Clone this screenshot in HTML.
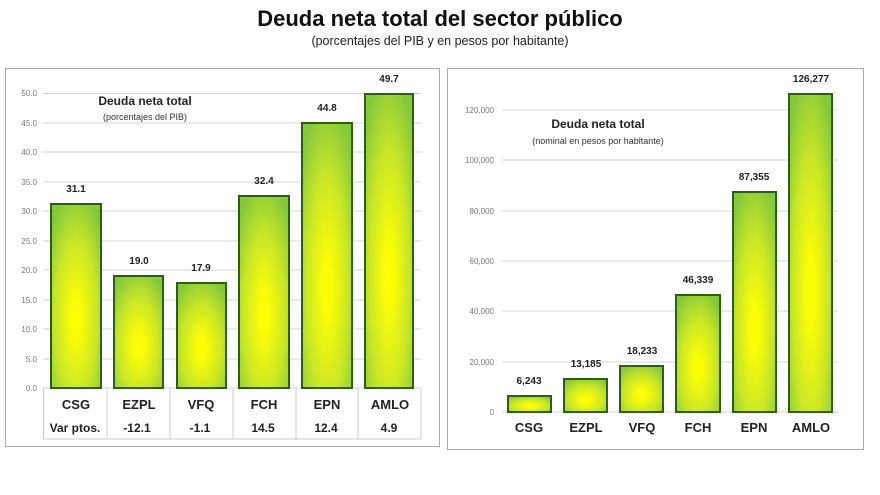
<!DOCTYPE html>
<html><head><meta charset="utf-8"><style>
body{margin:0;background:#fff;width:880px;height:490px;overflow:hidden;font-family:"Liberation Sans",sans-serif}
</style></head><body>
<svg width="880" height="490" xmlns="http://www.w3.org/2000/svg" font-family="Liberation Sans, sans-serif">
<defs>
<radialGradient id="g" cx="0.5" cy="0.62" r="0.7">
<stop offset="0" stop-color="#ffff00"/><stop offset="0.15" stop-color="#fbfc08"/><stop offset="0.6" stop-color="#c8e628"/><stop offset="1" stop-color="#84c83c"/>
</radialGradient>
</defs>
<text x="440" y="26" text-anchor="middle" font-size="22" font-weight="bold" fill="#111">Deuda neta total del sector público</text>
<text x="440" y="45" text-anchor="middle" font-size="12.5" fill="#222">(porcentajes del PIB y en pesos por habitante)</text>
<!-- left panel -->
<rect x="5.5" y="68.5" width="434" height="378" fill="#fff" stroke="#aaa"/>
<g stroke="#d4d4d4" stroke-width="1">
<line x1="43" x2="421" y1="93.5" y2="93.5"/><line x1="43" x2="421" y1="123" y2="123"/><line x1="43" x2="421" y1="152" y2="152"/><line x1="43" x2="421" y1="182" y2="182"/><line x1="43" x2="421" y1="211" y2="211"/><line x1="43" x2="421" y1="241" y2="241"/><line x1="43" x2="421" y1="270" y2="270"/><line x1="43" x2="421" y1="300" y2="300"/><line x1="43" x2="421" y1="329" y2="329"/><line x1="43" x2="421" y1="359" y2="359"/><line x1="43" x2="421" y1="388" y2="388"/>
</g>
<g font-size="8" fill="#777" text-anchor="end">
<text x="37" y="96">50.0</text><text x="37" y="126">45.0</text><text x="37" y="155">40.0</text><text x="37" y="185">35.0</text><text x="37" y="214">30.0</text><text x="37" y="244">25.0</text><text x="37" y="273">20.0</text><text x="37" y="303">15.0</text><text x="37" y="332">10.0</text><text x="37" y="362">5.0</text><text x="37" y="391">0.0</text>
</g>
<g fill="url(#g)" stroke="#2e5e12" stroke-width="2">
<rect x="51" y="204" width="50" height="184"/><rect x="114" y="276" width="49" height="112"/><rect x="177" y="283" width="49" height="105"/><rect x="239" y="196" width="50" height="192"/><rect x="302" y="123" width="50" height="265"/><rect x="365" y="94" width="48" height="294"/>
</g>
<g font-size="10" font-weight="bold" fill="#222" text-anchor="middle">
<text x="76" y="192">31.1</text><text x="139" y="264">19.0</text><text x="201" y="271">17.9</text><text x="264" y="184">32.4</text><text x="327" y="111">44.8</text><text x="389" y="82">49.7</text>
</g>
<text x="145" y="105" text-anchor="middle" font-size="12" font-weight="bold" fill="#222">Deuda neta total</text>
<text x="145" y="120" text-anchor="middle" font-size="9" fill="#333">(porcentajes del PIB)</text>
<g stroke="#ccc"><line x1="43" x2="421" y1="439" y2="439"/>
<line x1="43.5" x2="43.5" y1="388" y2="439"/><line x1="107" x2="107" y1="388" y2="439"/><line x1="170" x2="170" y1="388" y2="439"/><line x1="233" x2="233" y1="388" y2="439"/><line x1="296" x2="296" y1="388" y2="439"/><line x1="358" x2="358" y1="388" y2="439"/><line x1="421" x2="421" y1="388" y2="439"/></g>
<g font-size="13" font-weight="bold" fill="#222" text-anchor="middle">
<text x="76" y="409">CSG</text><text x="139" y="409">EZPL</text><text x="201" y="409">VFQ</text><text x="264" y="409">FCH</text><text x="327" y="409">EPN</text><text x="390" y="409">AMLO</text>
<text x="75" y="432" font-size="12">Var ptos.</text><text x="137" y="432" font-size="12">-12.1</text><text x="200" y="432" font-size="12">-1.1</text><text x="263" y="432" font-size="12">14.5</text><text x="326" y="432" font-size="12">12.4</text><text x="389" y="432" font-size="12">4.9</text>
</g>
<!-- right panel -->
<rect x="447.5" y="68.5" width="416" height="381" fill="#fff" stroke="#aaa"/>
<g stroke="#d4d4d4">
<line x1="502" x2="838" y1="110" y2="110"/><line x1="502" x2="838" y1="160" y2="160"/><line x1="502" x2="838" y1="211" y2="211"/><line x1="502" x2="838" y1="261" y2="261"/><line x1="502" x2="838" y1="311" y2="311"/><line x1="502" x2="838" y1="362" y2="362"/><line x1="502" x2="838" y1="412" y2="412"/>
</g>
<g font-size="8" fill="#777" text-anchor="end">
<text x="494" y="113">120,000</text><text x="494" y="163">100,000</text><text x="494" y="214">80,000</text><text x="494" y="264">60,000</text><text x="494" y="314">40,000</text><text x="494" y="365">20,000</text><text x="494" y="415">0</text>
</g>
<g fill="url(#g)" stroke="#2e5e12" stroke-width="2">
<rect x="508" y="396" width="43" height="16"/><rect x="564" y="379" width="43" height="33"/><rect x="620" y="366" width="43" height="46"/><rect x="676" y="295" width="44" height="117"/><rect x="733" y="192" width="43" height="220"/><rect x="789" y="94" width="43" height="318"/>
</g>
<g font-size="10" font-weight="bold" fill="#222" text-anchor="middle">
<text x="529" y="384">6,243</text><text x="586" y="367">13,185</text><text x="642" y="354">18,233</text><text x="698" y="283">46,339</text><text x="754" y="180">87,355</text><text x="811" y="82">126,277</text>
</g>
<text x="598" y="128" text-anchor="middle" font-size="12" font-weight="bold" fill="#222">Deuda neta total</text>
<text x="598" y="144" text-anchor="middle" font-size="9" fill="#333">(nominal en pesos por habitante)</text>
<g font-size="13" font-weight="bold" fill="#222" text-anchor="middle">
<text x="529" y="432">CSG</text><text x="586" y="432">EZPL</text><text x="642" y="432">VFQ</text><text x="698" y="432">FCH</text><text x="754" y="432">EPN</text><text x="811" y="432">AMLO</text>
</g>
</svg>
</body></html>
